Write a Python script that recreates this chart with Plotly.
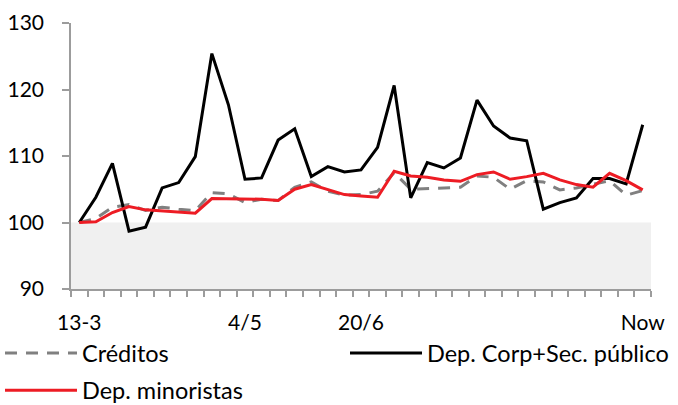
import plotly.graph_objects as go

# Weekly index values (base 13-3 = 100)
periods = list(range(35))
tick_positions = [0, 10, 17, 34]
tick_labels = ["13-3", "4/5", "20/6", "Now"]

creditos = [100.0, 100.6, 102.3, 102.7, 101.8, 102.3, 102.0, 101.8, 104.5, 104.3,
            103.0, 103.5, 103.3, 105.3, 106.1, 104.7, 104.1, 104.2, 104.7, 107.5,
            105.0, 105.1, 105.1, 105.3, 107.0, 106.8, 105.0, 106.3, 106.1, 104.9,
            105.2, 105.7, 106.3, 104.1, 104.8]

dep_corp = [100.0, 103.8, 108.9, 98.7, 99.3, 105.2, 106.0, 109.9, 125.4, 117.7,
            106.5, 106.7, 112.4, 114.1, 106.9, 108.4, 107.6, 107.9, 111.3, 120.6,
            103.7, 109.0, 108.2, 109.7, 118.4, 114.5, 112.7, 112.3, 102.0, 103.0,
            103.7, 106.6, 106.6, 105.8, 114.7]

dep_minoristas = [100.0, 100.1, 101.5, 102.4, 101.9, 101.7, 101.5, 101.4, 103.6, 103.6,
                  103.6, 103.5, 103.3, 105.0, 105.7, 104.9, 104.2, 104.0, 103.8, 107.7,
                  107.0, 106.8, 106.4, 106.2, 107.2, 107.6, 106.5, 106.9, 107.4, 106.4,
                  105.7, 105.3, 107.4, 106.3, 104.9]

band_low, band_high = 90, 100

font_family = "Lato, 'Open Sans', sans-serif"
axis_gray = "#9c9c9c"

fig = go.Figure()
fig.add_trace(go.Scatter(x=periods, y=creditos, name="Créditos", mode="lines",
                         legend="legend",
                         line=dict(color="#808080", width=3, dash="12px,9px")))
fig.add_trace(go.Scatter(x=periods, y=dep_corp, name="Dep. Corp+Sec. público", mode="lines",
                         legend="legend2",
                         line=dict(color="#000000", width=3)))
fig.add_trace(go.Scatter(x=periods, y=dep_minoristas, name="Dep. minoristas", mode="lines",
                         legend="legend3",
                         line=dict(color="#ED1C24", width=3)))

# shaded zone below the base level
fig.add_shape(type="rect", xref="paper", x0=0, x1=1, yref="y", y0=band_low, y1=band_high,
              fillcolor="#f0f0f0", line=dict(width=0), layer="below")

legend_common = dict(
    orientation="h", xref="container", yref="container",
    xanchor="left", yanchor="top",
    itemwidth=72,
    font=dict(family=font_family, size=23.5),
    bgcolor="rgba(0,0,0,0)", borderwidth=0,
)

fig.update_layout(
    width=678, height=405,
    margin=dict(l=71, r=27, t=23, b=116),
    paper_bgcolor="white", plot_bgcolor="white",
    font=dict(family=font_family, size=21, color="#000000"),
    showlegend=True,
    legend=dict(x=0, y=0.182, **legend_common),
    legend2=dict(x=345 / 678, y=0.182, **legend_common),
    legend3=dict(x=0, y=0.09, **legend_common),
    xaxis=dict(
        range=[-0.5, 34.5], tickmode="array", tickvals=tick_positions, ticktext=tick_labels,
        ticks="outside", ticklen=6, tickcolor="rgba(0,0,0,0)",
        ticklabelstandoff=8, automargin=False,
        showline=True, linecolor=axis_gray, linewidth=1.5,
        showgrid=False, zeroline=False,
        minor=dict(tickmode="linear", tick0=-0.5, dtick=1, ticks="outside",
                   ticklen=6, tickcolor=axis_gray, tickwidth=1.5, showgrid=False),
    ),
    yaxis=dict(
        range=[90, 130], tickmode="linear", tick0=90, dtick=10,
        ticks="outside", ticklen=7, tickcolor=axis_gray, tickwidth=1.5,
        ticklabelstandoff=14, automargin=False,
        showline=True, linecolor=axis_gray, linewidth=1.5,
        showgrid=False, zeroline=False,
    ),
)

fig.write_html("out.html")
